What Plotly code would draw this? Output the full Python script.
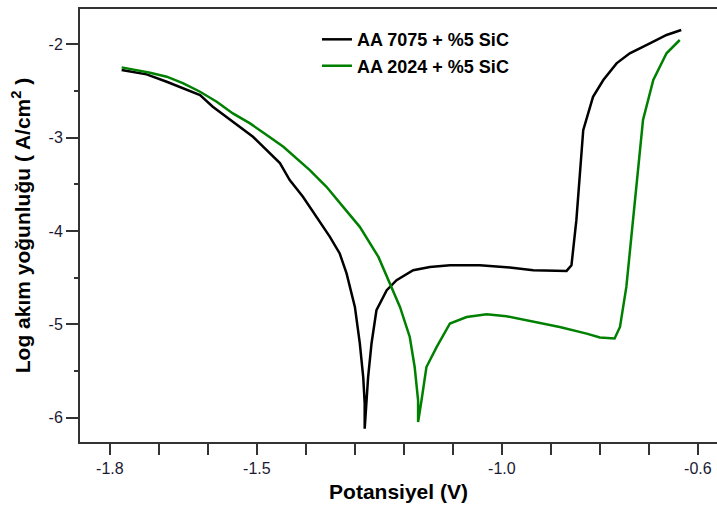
import plotly.graph_objects as go

# AA 7075 + %5 SiC (black)
x_7075 = [-1.776, -1.725, -1.684, -1.651, -1.616, -1.590, -1.549, -1.508, -1.453, -1.433,
          -1.406, -1.378, -1.351, -1.331, -1.317, -1.300, -1.290, -1.283, -1.280, -1.280,
          -1.277, -1.273, -1.266, -1.256, -1.235, -1.215, -1.181, -1.147, -1.106, -1.045,
          -0.984, -0.936, -0.868, -0.858, -0.848, -0.841, -0.834, -0.814, -0.793, -0.766,
          -0.739, -0.698, -0.664, -0.634]
y_7075 = [-2.275, -2.322, -2.401, -2.468, -2.543, -2.669, -2.830, -2.990, -3.272, -3.454,
          -3.633, -3.848, -4.062, -4.240, -4.454, -4.812, -5.201, -5.563, -5.845, -6.116,
          -5.845, -5.563, -5.201, -4.848, -4.633, -4.526, -4.419, -4.384, -4.366, -4.366,
          -4.390, -4.419, -4.427, -4.366, -3.883, -3.347, -2.919, -2.562, -2.383, -2.204,
          -2.096, -1.989, -1.900, -1.847]

# AA 2024 + %5 SiC (green)
x_2024 = [-1.776, -1.718, -1.684, -1.650, -1.616, -1.582, -1.549, -1.514, -1.480, -1.446,
          -1.392, -1.358, -1.324, -1.290, -1.252, -1.229, -1.208, -1.188, -1.178, -1.171,
          -1.171, -1.164, -1.154, -1.133, -1.106, -1.072, -1.031, -0.991, -0.936, -0.882,
          -0.827, -0.800, -0.770, -0.759, -0.746, -0.732, -0.722, -0.712, -0.691, -0.664,
          -0.637]
y_2024 = [-2.247, -2.304, -2.347, -2.418, -2.508, -2.615, -2.740, -2.847, -2.972, -3.098,
          -3.347, -3.526, -3.741, -3.955, -4.277, -4.562, -4.812, -5.134, -5.456, -5.812,
          -6.045, -5.812, -5.456, -5.241, -4.990, -4.920, -4.891, -4.912, -4.973, -5.027,
          -5.098, -5.140, -5.151, -5.027, -4.598, -3.883, -3.347, -2.811, -2.383, -2.096,
          -1.954]

x_tickvals = [-1.8, -1.5, -1.0, -0.6]
x_ticktext = ["-1.8", "-1.5", "-1.0", "-0.6"]
x_minor_ticks = [-1.7, -1.6, -1.4, -1.3, -1.2, -1.1, -0.9, -0.8, -0.7]
y_tickvals = [-2, -3, -4, -5, -6]
y_ticktext = ["-2", "-3", "-4", "-5", "-6"]
y_minor_ticks = [-2.5, -3.5, -4.5, -5.5]

FONT = "Arial, Liberation Sans, sans-serif"
AX = "#333333"

fig = go.Figure()
fig.add_trace(go.Scatter(x=x_7075, y=y_7075, mode="lines", name="<b>AA 7075 + %5 SiC</b>",
                         line=dict(color="#000000", width=2.5)))
fig.add_trace(go.Scatter(x=x_2024, y=y_2024, mode="lines", name="<b>AA 2024 + %5 SiC</b>",
                         line=dict(color="#008000", width=2.5)))

fig.update_layout(
    width=717, height=506,
    margin=dict(l=80, r=0, t=9, b=64),
    paper_bgcolor="white", plot_bgcolor="white",
    font=dict(family=FONT, color="#111111"),
    legend=dict(x=0.372, y=0.972, xanchor="left", yanchor="top",
                bgcolor="rgba(0,0,0,0)", font=dict(size=18, family=FONT, color="#000"),
                itemwidth=30, tracegroupgap=0),
    xaxis=dict(range=[-1.861, -0.561], showgrid=False, zeroline=False,
               showline=True, linecolor=AX, linewidth=2, mirror=True,
               ticks="outside", ticklen=11, tickwidth=1.5, tickcolor=AX,
               tickvals=x_tickvals, ticktext=x_ticktext,
               tickfont=dict(size=16, family=FONT, color="#1a1a33"),
               minor=dict(ticks="outside", ticklen=11, tickwidth=1.5, tickcolor=AX,
                          tickvals=x_minor_ticks, showgrid=False),
               title=dict(text="<b>Potansiyel (V)</b>", font=dict(size=21, family=FONT, color="#000"),
                          standoff=8)),
    yaxis=dict(range=[-6.259, -1.622], showgrid=False, zeroline=False,
               showline=True, linecolor=AX, linewidth=2, mirror=False,
               ticks="outside", ticklen=12, tickwidth=1.5, tickcolor=AX,
               tickvals=y_tickvals, ticktext=y_ticktext,
               tickfont=dict(size=16, family=FONT, color="#1a1a33"),
               minor=dict(ticks="outside", ticklen=4, tickwidth=1.5, tickcolor=AX,
                          tickvals=y_minor_ticks, showgrid=False),
               title=dict(text="<b>Log akım yoğunluğu ( A/cm<sup>2</sup> )</b>",
                          font=dict(size=21, family=FONT, color="#000"), standoff=12)),
)

fig.write_html("out.html")
